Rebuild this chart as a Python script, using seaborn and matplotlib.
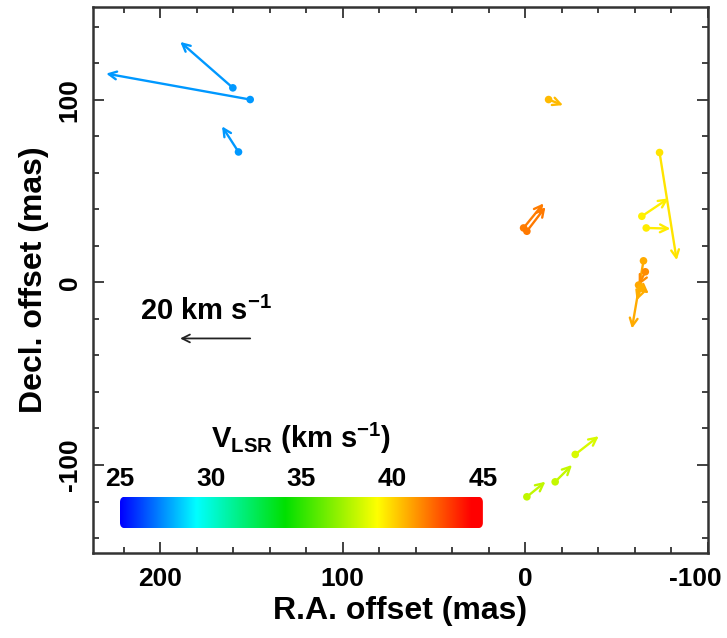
import numpy as np
import pandas as pd
import matplotlib
matplotlib.use("Agg")
import matplotlib.pyplot as plt
from matplotlib.colors import LinearSegmentedColormap, Normalize
from matplotlib.patches import FancyBboxPatch
from matplotlib.ticker import MultipleLocator
from matplotlib.transforms import ScaledTranslation
import seaborn as sns

# Maser spot positions (mas), proper motions (km/s) and LSR velocities (km/s)
ra_offset = [150.7, 160.2, 157.1, -12.8, -73.6, -63.9, -66.3, -64.8, -65.8, -62.1,
             -63.5, 0.9, -0.9, -0.9, -16.4, -27.4]
dec_offset = [100.1, 106.5, 71.4, 100.1, 71.1, 36.2, 29.8, 11.8, 5.8, -1.5,
              -3.0, 29.8, 28.0, -117.4, -109.2, -94.2]
v_ra = [41.1, 15.0, 4.7, -4.1, -4.9, -7.6, -6.9, 3.3, 1.9, -2.9,
        1.3, -5.7, -5.3, -5.3, -4.8, -6.7]
v_dec = [7.4, 13.1, 7.3, -1.6, -30.7, 5.1, -0.2, -19.3, -3.8, -2.4,
         -3.6, 7.0, 6.9, 4.3, 4.8, 5.2]
v_lsr = [27.5, 27.5, 27.5, 40.6, 39.7, 39.5, 39.6, 40.9, 41.5, 41.0,
         40.8, 41.8, 41.9, 37.9, 38.0, 38.4]

# Reference proper-motion arrow
ref_speed = 20.0            # km/s
ref_pos = (150.7, -30.7)    # mas, tail of the reference arrow
mas_per_kms = 38.4 / 20.0   # arrow length scale

cbar_ticks = [25, 30, 35, 40, 45]
vmin, vmax = 25, 45

df = pd.DataFrame({"ra": ra_offset, "dec": dec_offset, "vx": v_ra,
                   "vy": v_dec, "vlsr": v_lsr})

sns.set_theme(style="ticks")
plt.rcParams["font.family"] = ["Liberation Sans", "DejaVu Sans"]
plt.rcParams["font.weight"] = "bold"
plt.rcParams["text.color"] = "black"
plt.rcParams["axes.labelcolor"] = "black"
plt.rcParams["xtick.color"] = "black"
plt.rcParams["ytick.color"] = "black"
plt.rcParams["axes.unicode_minus"] = False
plt.rcParams["mathtext.fontset"] = "custom"
plt.rcParams["mathtext.rm"] = "Liberation Sans:bold"
plt.rcParams["mathtext.bf"] = "Liberation Sans:bold"
plt.rcParams["mathtext.it"] = "Liberation Sans:bold"

cmap = LinearSegmentedColormap.from_list(
    "vlsr",
    [(0.0, "#0000ff"), (0.21, "#00ffff"), (0.455, "#00e000"),
     (0.71, "#ffff00"), (0.97, "#ff0000"), (1.0, "#ff0000")])
norm = Normalize(vmin, vmax)

fig = plt.figure(figsize=(7.27, 6.38), dpi=100)
ax = fig.add_axes([0.1275, 0.1337, 0.846, 0.856])

# proper-motion vectors
for _, r in df.iterrows():
    end = (r.ra + r.vx * mas_per_kms, r.dec + r.vy * mas_per_kms)
    ax.annotate("", xy=end, xytext=(r.ra, r.dec),
                arrowprops=dict(arrowstyle="->", color=cmap(norm(r.vlsr)),
                                lw=1.7, shrinkA=0, shrinkB=0,
                                mutation_scale=14))

sns.scatterplot(data=df, x="ra", y="dec", hue="vlsr", palette=cmap,
                hue_norm=(vmin, vmax), s=30, linewidth=0, legend=False,
                ax=ax, zorder=3)

# reference arrow
ax.annotate("", xy=(ref_pos[0] + ref_speed * mas_per_kms, ref_pos[1]),
            xytext=ref_pos,
            arrowprops=dict(arrowstyle="->", color="#222222", lw=1.3,
                            shrinkA=0, shrinkB=0, mutation_scale=14))
ax.text(ref_pos[0] + ref_speed * mas_per_kms / 2 + 5, ref_pos[1] + 15,
        r"20 km s$^{-1}$", ha="center", va="center", fontsize=21,
        fontweight="bold")

ax.set_xlim(237, -100)
ax.set_ylim(-148, 151)
ax.xaxis.set_major_locator(MultipleLocator(100))
ax.xaxis.set_minor_locator(MultipleLocator(20))
ax.yaxis.set_major_locator(MultipleLocator(100))
ax.yaxis.set_minor_locator(MultipleLocator(20))
ax.tick_params(which="both", direction="in", top=True, right=True,
               color="#333333", width=1.3, labelsize=19)
ax.tick_params(which="major", length=8)
ax.tick_params(which="minor", length=4)
ax.tick_params(axis="x", pad=10)
ax.tick_params(axis="y", pad=8)
fig.canvas.draw()
for lab in ax.get_yticklabels():
    lab.set_rotation(90)
    lab.set_va("center")
    lab.set_fontweight("bold")
xlabs = ax.get_xticklabels()
for lab in xlabs:
    lab.set_fontweight("bold")
# keep the rightmost tick label inside the figure
last = [lab for lab in xlabs if lab.get_text() == "-100"]
for lab in last:
    lab.set_ha("right")
    lab.set_transform(lab.get_transform() +
                      ScaledTranslation(0.14, 0, fig.dpi_scale_trans))
for sp in ax.spines.values():
    sp.set_linewidth(1.8)
    sp.set_color("#333333")
ax.set_xlabel("R.A. offset (mas)", fontsize=23, fontweight="bold", labelpad=4)
ax.set_ylabel("Decl. offset (mas)", fontsize=23, fontweight="bold", labelpad=6)

# colour bar with rounded ends inside the panel
cax = ax.inset_axes([0.0444, 0.0447, 0.59, 0.058])
h = (vmax - vmin) * 31.6 / 362.7
gradient = np.linspace(vmin, vmax, 512)[None, :]
im = cax.imshow(gradient, cmap=cmap, norm=norm, extent=[vmin, vmax, 0, h],
                aspect="auto", interpolation="bilinear")
clip = FancyBboxPatch((vmin, 0), vmax - vmin, h,
                      boxstyle="round,pad=0,rounding_size=0.3",
                      transform=cax.transData, facecolor="none",
                      edgecolor="none")
cax.add_patch(clip)
im.set_clip_path(clip)
cax.set_xlim(vmin, vmax)
cax.set_ylim(0, h)
cax.set_yticks([])
cax.set_xticks(cbar_ticks)
cax.xaxis.set_ticks_position("top")
cax.tick_params(axis="x", length=0, pad=4, labelsize=19)
for lab in cax.get_xticklabels():
    lab.set_fontweight("bold")
for sp in cax.spines.values():
    sp.set_visible(False)
cax.patch.set_alpha(0)
cax.xaxis.set_label_position("top")
cax.set_xlabel(r"V$_{\mathrm{LSR}}$ (km s$^{-1}$)", fontsize=21,
               fontweight="bold", labelpad=14)

fig.savefig("out.png", dpi=100, facecolor="white")
